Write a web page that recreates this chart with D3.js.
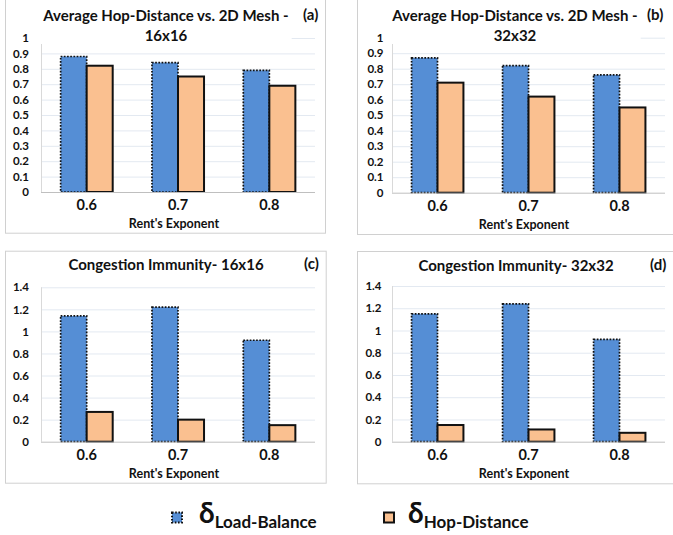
<!doctype html>
<html>
  <head>
    <meta charset="utf-8">
    <title>Load-Balance vs Hop-Distance</title>
    <script src="https://cdn.jsdelivr.net/npm/d3@7/dist/d3.min.js"></script>
    <style>
      body { margin: 0; background: #fff; }
      text { font-family: Lato, "Open Sans", sans-serif; }
    </style>
  </head>
  <body>
    <script>
      // data
      const categories = ['0.6', '0.7', '0.8'];
      const hopLB16 = [0.88, 0.84, 0.79];
      const hopHD16 = [0.82, 0.75, 0.69];
      const hopLB32 = [0.87, 0.82, 0.76];
      const hopHD32 = [0.71, 0.62, 0.55];
      const congLB16 = [1.14, 1.22, 0.92];
      const congHD16 = [0.27, 0.20, 0.15];
      const congLB32 = [1.15, 1.24, 0.92];
      const congHD32 = [0.15, 0.11, 0.08];
      const hopTicks = [0, 0.1, 0.2, 0.3, 0.4, 0.5, 0.6, 0.7, 0.8, 0.9, 1];
      const congTicks = [0, 0.2, 0.4, 0.6, 0.8, 1, 1.2, 1.4];
      const seriesNames = ['Load-Balance', 'Hop-Distance'];

      const blue = '#558ed5';
      const orange = '#fac090';

      const svg = d3.select('body').append('svg')
          .attr('width', 673)
          .attr('height', 535);

      const panels = [
        { frame: [5, -5, 325, 232.7], plot: [41, 38, 315, 192], max: 1, ticks: hopTicks,
          lb: hopLB16, hd: hopHD16, title: ['Average Hop-Distance vs. 2D Mesh -', '16x16'],
          titleX: 166, tag: '(a)', tagX: 303, lblOff: 12, rentX: 174, rentY: 228 },
        { frame: [357, -5, 680, 234], plot: [392, 37.7, 665, 192.7], max: 1, ticks: hopTicks,
          lb: hopLB32, hd: hopHD32, title: ['Average Hop-Distance vs. 2D Mesh -', '32x32'],
          titleX: 515, tag: '(b)', tagX: 647, lblOff: 8.5, rentX: 524, rentY: 228.5 },
        { frame: [5, 250.7, 325.7, 482.7], plot: [41, 287.3, 315, 441.7], max: 1.4, ticks: congTicks,
          lb: congLB16, hd: congHD16, title: ['Congestion Immunity- 16x16'],
          titleX: 166, tag: '(c)', tagX: 304, lblOff: 12, rentX: 174, rentY: 478 },
        { frame: [357, 251, 680, 483.3], plot: [392, 286, 665, 441.7], max: 1.4, ticks: congTicks,
          lb: congLB32, hd: congHD32, title: ['Congestion Immunity- 32x32'],
          titleX: 516, tag: '(d)', tagX: 650, lblOff: 10.5, rentX: 524, rentY: 478 }
      ];

      panels.forEach(p => {
        const g = svg.append('g');
        const [fx0, fy0, fx1, fy1] = p.frame;
        const [px0, py0, px1, py1] = p.plot;

        g.append('rect')
            .attr('x', fx0 + 0.5).attr('y', fy0 + 0.5)
            .attr('width', fx1 - fx0).attr('height', fy1 - fy0)
            .attr('fill', '#fff')
            .attr('stroke', '#d0d0d0');

        const x = d3.scaleBand()
            .domain(categories)
            .range([px0, px1])
            .paddingInner(0.43)
            .paddingOuter(0.215);
        const xs = d3.scaleBand()
            .domain(seriesNames)
            .range([0, x.bandwidth()]);
        const y = d3.scaleLinear()
            .domain([0, p.max])
            .range([py1, py0]);

        // gridlines
        g.append('g')
            .attr('transform', `translate(${px0},0)`)
            .call(d3.axisLeft(y).tickValues(p.ticks.slice(1)).tickSize(-(px1 - px0)).tickFormat(''))
            .call(a => a.select('.domain').remove())
            .call(a => a.selectAll('line').attr('stroke', '#e3e9f1'));

        // left axis line
        g.append('line')
            .attr('x1', px0 + 0.5).attr('x2', px0 + 0.5)
            .attr('y1', py0).attr('y2', py1)
            .attr('stroke', '#d9d9d9');

        // y tick labels
        g.append('g')
            .attr('transform', `translate(${px0},0)`)
            .call(d3.axisLeft(y).tickValues(p.ticks).tickSize(0).tickPadding(p.lblOff).tickFormat(d3.format('')))
            .call(a => a.select('.domain').remove())
            .call(a => a.selectAll('text')
                .attr('font-family', 'Lato, sans-serif')
                .attr('font-size', 11.5)
                .attr('font-weight', 'bold')
                .attr('fill', '#111'));

        // bars
        const cat = g.selectAll('.cat')
          .data(categories)
          .enter().append('g')
            .attr('transform', d => `translate(${x(d)},0)`);
        cat.append('rect')
            .attr('x', xs('Load-Balance'))
            .attr('y', (d, i) => y(p.lb[i]))
            .attr('width', xs.bandwidth())
            .attr('height', (d, i) => y(0) - y(p.lb[i]))
            .attr('fill', blue)
            .attr('stroke', '#111')
            .attr('stroke-width', 1.7)
            .attr('stroke-dasharray', '1.7 1.5');
        cat.append('rect')
            .attr('x', xs('Hop-Distance'))
            .attr('y', (d, i) => y(p.hd[i]))
            .attr('width', xs.bandwidth())
            .attr('height', (d, i) => y(0) - y(p.hd[i]))
            .attr('fill', orange)
            .attr('stroke', '#111')
            .attr('stroke-width', 2);

        // x axis
        g.append('g')
            .attr('transform', `translate(0,${py1})`)
            .call(d3.axisBottom(x).tickSize(0).tickPadding(8))
            .call(a => a.select('.domain').attr('stroke', '#bfbfbf').attr('d', `M${px0},0.5H${px1}`))
            .call(a => a.selectAll('text')
                .attr('font-family', 'Lato, sans-serif')
                .attr('font-size', 14.5)
                .attr('font-weight', 'bold')
                .attr('fill', '#111'));

        g.append('text')
            .attr('x', p.rentX).attr('y', p.rentY)
            .attr('text-anchor', 'middle')
            .attr('font-size', 12.5)
            .attr('font-weight', 'bold')
            .attr('fill', '#111')
            .text("Rent's Exponent");

        // title with white box over the plot
        const tg = g.append('g');
        const ty = p.title.length > 1 ? 21 : fy0 + 19.5;
        const tt = tg.append('text')
            .attr('x', p.titleX).attr('y', ty)
            .attr('text-anchor', 'middle')
            .attr('font-size', 15)
            .attr('font-weight', 'bold')
            .attr('fill', '#111');
        p.title.forEach((line, i) => {
          tt.append('tspan')
              .attr('x', p.titleX)
              .attr('dy', i === 0 ? 0 : 20)
              .text(line);
        });
        const bb = tt.node().getBBox();
        tg.insert('rect', 'text')
            .attr('x', bb.x - 3).attr('y', bb.y - 2)
            .attr('width', bb.width + 6).attr('height', bb.height + 2)
            .attr('fill', '#fff');

        g.append('text')
            .attr('x', p.tagX).attr('y', ty - 1)
            .attr('font-size', 15)
            .attr('font-weight', 'bold')
            .attr('fill', '#111')
            .text(p.tag);
      });

      // legend
      const legend = svg.append('g');
      const items = [
        { name: seriesNames[0], fill: blue, dash: '1.6 1.6', mx: 172, tx: 199 },
        { name: seriesNames[1], fill: orange, dash: null, mx: 384, tx: 408 }
      ];
      items.forEach(it => {
        legend.append('rect')
            .attr('x', it.mx).attr('y', 512.5)
            .attr('width', 10).attr('height', 10)
            .attr('fill', it.fill)
            .attr('stroke', '#111')
            .attr('stroke-width', 2)
            .attr('stroke-dasharray', it.dash);
        const t = legend.append('text')
            .attr('x', it.tx).attr('y', 523)
            .attr('fill', '#111');
        t.append('tspan')
            .attr('font-size', 28)
            .attr('font-weight', 'bold')
            .text('δ');
        t.append('tspan')
            .attr('font-size', 17)
            .attr('font-weight', 'bold')
            .attr('dy', 5)
            .text(it.name);
      });
    </script>
  </body>
</html>
